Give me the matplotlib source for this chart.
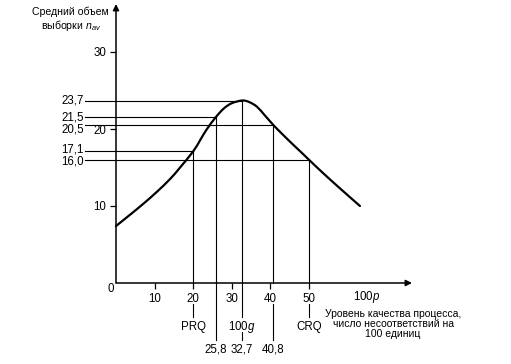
import matplotlib
matplotlib.use("Agg")
import matplotlib.pyplot as plt
from matplotlib.path import Path
from matplotlib.patches import PathPatch

plt.rcParams['font.family'] = ['Liberation Sans', 'DejaVu Sans']
plt.rcParams['mathtext.fontset'] = 'custom'
plt.rcParams['mathtext.rm'] = 'Liberation Sans'
plt.rcParams['mathtext.it'] = 'Liberation Sans:italic'

# ---- data ----
curve_x = [0, 3.6, 7.1, 10.5, 14.0, 16.6, 20.0, 21.8, 23.5, 25.8, 27.9, 30.0,
           32.7, 34.5, 36.5, 38.5, 40.8, 43.0, 45.5, 48.0, 50.0, 53.7, 58.0, 63.2]
curve_y = [7.4, 8.85, 10.3, 11.8, 13.5, 15.0, 17.1, 18.55, 19.95, 21.5, 22.65, 23.35,
           23.7, 23.5, 22.9, 21.8, 20.5, 19.38, 18.15, 16.97, 16.0, 14.25, 12.3, 10.0]

point_x = [20.0, 25.8, 32.7, 40.8, 50.0]        # PRQ, ..., 100g, ..., CRQ
point_y = [17.1, 21.5, 23.7, 20.5, 16.0]
point_ylabels = ['17,1', '21,5', '23,7', '20,5', '16,0']
point_xlabels = ['PRQ', '25,8', '100$g$', '40,8', 'CRQ']

xticks = [10, 20, 30, 40, 50]
yticks = [10, 20, 30]

# ---- layout helpers (pixel -> data) ----
W, H = 511, 364
X0, Y0 = 116, 283          # pixel of origin
SX, SY = 3.86, 7.7         # pixels per unit


def dx(px):
    return (px - X0) / SX


def dy(py):
    return (Y0 - py) / SY


fig = plt.figure(figsize=(W / 100, H / 100), dpi=100)
ax = fig.add_axes([X0 / W, (H - Y0) / H, (412 - X0) / W, (Y0 - 4) / H])
ax.set_xlim(0, dx(412))
ax.set_ylim(0, dy(4))
for s in ax.spines.values():
    s.set_visible(False)

FS = 8.3
k = 'black'

# axes with arrows
for tip in [(dx(412), 0), (0, dy(4))]:
    ax.annotate('', xy=tip, xytext=(0, 0), annotation_clip=False,
                arrowprops=dict(arrowstyle='-|>', lw=1.1, color=k, mutation_scale=9,
                                shrinkA=0, shrinkB=0))

ax.set_xticks(xticks)
ax.set_xticklabels([str(t) for t in xticks])
ax.set_yticks(yticks)
ax.set_yticklabels([str(t) for t in yticks])
ax.tick_params(direction='out', length=4.5, width=0.9, pad=2.5, labelsize=FS,
               colors=k)

# smooth curve through the read points (Catmull-Rom as cubic Bezier)
pts = list(zip(curve_x, curve_y))
verts = [pts[0]]
codes = [Path.MOVETO]
n = len(pts)
for i in range(n - 1):
    p0 = pts[i - 1] if i > 0 else pts[i]
    p1 = pts[i]
    p2 = pts[i + 1]
    p3 = pts[i + 2] if i + 2 < n else pts[i + 1]
    c1 = (p1[0] + (p2[0] - p0[0]) / 6, p1[1] + (p2[1] - p0[1]) / 6)
    c2 = (p2[0] - (p3[0] - p1[0]) / 6, p2[1] - (p3[1] - p1[1]) / 6)
    verts += [c1, c2, p2]
    codes += [Path.CURVE4] * 3
ax.add_patch(PathPatch(Path(verts, codes), fill=False, edgecolor=k, lw=1.6,
                       capstyle='round', joinstyle='round', clip_on=False))

lw = 0.8
xl = dx(85)
offsets = {'17,1': 2, '16,0': -2, '20,5': -4}
for px_, py_, lab in zip(point_x, point_y, point_ylabels):
    ax.plot([xl, px_], [py_, py_], color=k, lw=lw, clip_on=False)
    ax.plot([px_, px_], [0, py_], color=k, lw=lw, clip_on=False)
    ax.annotate(lab, xy=(dx(84), py_), xytext=(0, offsets.get(lab, 0)),
                textcoords='offset pixels', ha='right', va='center', fontsize=FS,
                annotation_clip=False)

# extensions below the axis
ext = {20.0: [(dy(304), dy(317))],
       25.8: [(0, dy(340))],
       32.7: [(0, dy(317)), (dy(332), dy(340))],
       40.8: [(dy(304), dy(340))],
       50.0: [(dy(304), dy(317))]}
for px_, lab in zip(point_x, point_xlabels):
    for a, b in ext[px_]:
        ax.plot([px_, px_], [a, b], color=k, lw=lw, clip_on=False)
    ylab = dy(327) if lab in ('PRQ', '100$g$', 'CRQ') else dy(349)
    ax.text(px_, ylab, lab, ha='center', va='center', fontsize=FS)
    if lab == '100$g$':
        ax.text(px_, dy(349), '32,7', ha='center', va='center', fontsize=FS)

ax.text(dx(110.5), dy(289), '0', ha='center', va='center', fontsize=FS)
ax.text(dx(367), dy(297), '100$p$', ha='center', va='center', fontsize=FS)
ax.text(dx(393), dy(324),
        'Уровень качества процесса,\nчисло несоответствий на\n100 единиц',
        ha='center', va='center', multialignment='center', fontsize=7.5,
        linespacing=1.0)
ax.text(dx(70), dy(11.5), 'Средний объем', ha='center', va='center', fontsize=7.6)
ax.text(dx(71), dy(25.5), 'выборки $n_{av}$', ha='center', va='center', fontsize=7.6)

fig.savefig('out.png', dpi=100)
